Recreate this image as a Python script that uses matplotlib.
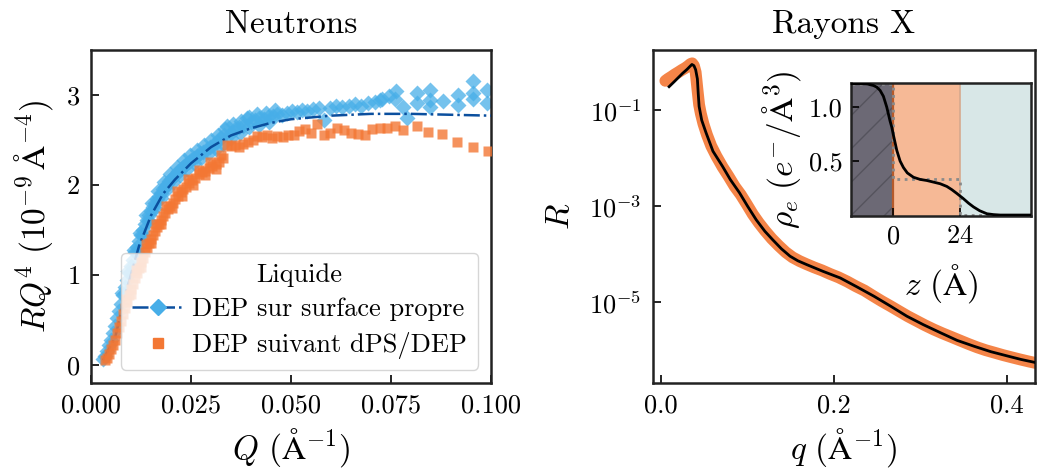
import matplotlib
matplotlib.use("Agg")
import matplotlib.pyplot as plt
from matplotlib.ticker import NullLocator, FixedLocator, FormatStrFormatter
from matplotlib.lines import Line2D

plt.rcParams['font.family'] = 'cmr10'
plt.rcParams['mathtext.fontset'] = 'cm'
plt.rcParams['axes.formatter.use_mathtext'] = True
plt.rcParams['axes.unicode_minus'] = False
plt.rcParams['hatch.linewidth'] = 1.0

# ---------------- Neutrons data ----------------
Q_clean = [0.0030, 0.0035, 0.0040, 0.0045, 0.0050, 0.0055, 0.0060, 0.0065, 0.0070, 0.0075,
           0.0080, 0.0085, 0.0090, 0.0095, 0.0100, 0.0105, 0.0110, 0.0115, 0.0120, 0.0125,
           0.0130, 0.0135, 0.0140, 0.0145, 0.0150, 0.0155, 0.0160, 0.0165, 0.0170, 0.0175,
           0.0180, 0.0185, 0.0190, 0.0195, 0.0200, 0.0206, 0.0212, 0.0218, 0.0224, 0.0230,
           0.0237, 0.0244, 0.0251, 0.0258, 0.0265, 0.0273, 0.0281, 0.0289, 0.0297, 0.0305,
           0.0314, 0.0323, 0.0332, 0.0341, 0.0350, 0.0360, 0.0370, 0.0380, 0.0390, 0.0400,
           0.0410, 0.0421, 0.0432, 0.0443, 0.0454, 0.0466, 0.0478, 0.0490, 0.0502, 0.0515,
           0.0528, 0.0541, 0.0555, 0.0569, 0.0583, 0.0598, 0.0613, 0.0628, 0.0644, 0.0660,
           0.0676, 0.0693, 0.0710, 0.0723, 0.0727, 0.0745, 0.0760, 0.0763, 0.0781, 0.0789,
           0.0814, 0.0814, 0.0848, 0.0848, 0.0848, 0.0881, 0.0918, 0.0918, 0.0956, 0.0956,
           0.0956, 0.0990, 0.0990,
           # upper and lower edges of the dense band
           0.0078, 0.0092, 0.0108, 0.0122, 0.0138, 0.0152, 0.0168, 0.0182, 0.0198, 0.0215,
           0.0232, 0.0248, 0.0265, 0.0282, 0.0300, 0.0318, 0.0335, 0.0355, 0.0375, 0.0395,
           0.0415, 0.0437, 0.0460,
           0.0085, 0.0100, 0.0115, 0.0130, 0.0145, 0.0160, 0.0175, 0.0190, 0.0205, 0.0222,
           0.0240, 0.0258, 0.0276, 0.0295, 0.0312, 0.0330, 0.0350, 0.0372, 0.0395, 0.0420,
           0.0445]
RQ4_clean = [0.06, 0.10, 0.15, 0.22, 0.28, 0.35, 0.43, 0.52, 0.60, 0.68,
             0.77, 0.86, 0.94, 1.02, 1.10, 1.17, 1.25, 1.31, 1.38, 1.44,
             1.50, 1.56, 1.61, 1.66, 1.71, 1.75, 1.80, 1.84, 1.88, 1.91,
             1.95, 1.98, 2.01, 2.04, 2.06, 2.09, 2.12, 2.15, 2.18, 2.20,
             2.23, 2.25, 2.28, 2.30, 2.32, 2.35, 2.37, 2.40, 2.42, 2.44,
             2.48, 2.52, 2.56, 2.66, 2.58, 2.62, 2.64, 2.66, 2.74, 2.70,
             2.72, 2.74, 2.73, 2.76, 2.77, 2.79, 2.78, 2.80, 2.82, 2.81,
             2.83, 2.82, 2.84, 2.85, 2.72, 2.86, 2.88, 2.87, 2.88, 2.90,
             2.88, 2.91, 2.92, 2.94, 2.96, 2.99, 2.95, 3.04, 2.87, 2.74,
             3.02, 2.91, 3.06, 2.94, 2.87, 2.93, 3.00, 2.89, 3.15, 3.02,
             2.96, 3.06, 2.91,
             0.80, 1.04, 1.28, 1.47, 1.66, 1.80, 1.93, 2.03, 2.12, 2.20,
             2.28, 2.33, 2.39, 2.44, 2.50, 2.56, 2.62, 2.68, 2.71, 2.76,
             2.79, 2.80, 2.83,
             0.80, 1.03, 1.25, 1.44, 1.60, 1.74, 1.85, 1.95, 2.03, 2.11,
             2.18, 2.24, 2.30, 2.35, 2.40, 2.45, 2.52, 2.58, 2.64, 2.67,
             2.70]

Q_fit = [0.003, 0.006, 0.009, 0.012, 0.015, 0.018, 0.021, 0.025, 0.030, 0.035,
         0.040, 0.045, 0.050, 0.060, 0.070, 0.080, 0.090, 0.100]
RQ4_fit = [0.05, 0.30, 0.85, 1.32, 1.66, 1.90, 2.06, 2.24, 2.42, 2.55,
           2.63, 2.69, 2.73, 2.77, 2.79, 2.79, 2.78, 2.77]

Q_dps = [0.0035, 0.0040, 0.0045, 0.0050, 0.0055, 0.0060, 0.0065, 0.0070, 0.0075, 0.0080,
         0.0085, 0.0090, 0.0095, 0.0100, 0.0105, 0.0110, 0.0115, 0.0120, 0.0125, 0.0130,
         0.0135, 0.0140, 0.0145, 0.0150, 0.0155, 0.0160, 0.0165, 0.0170, 0.0175, 0.0180,
         0.0186, 0.0192, 0.0198, 0.0204, 0.0210, 0.0217, 0.0224, 0.0231, 0.0238, 0.0245,
         0.0253, 0.0261, 0.0269, 0.0277, 0.0285, 0.0294, 0.0303, 0.0312, 0.0321, 0.0330,
         0.0340, 0.0350, 0.0360, 0.0370, 0.0380, 0.0392, 0.0404, 0.0416, 0.0428, 0.0440,
         0.0453, 0.0466, 0.0479, 0.0493, 0.0507, 0.0521, 0.0536, 0.0551, 0.0566, 0.0582,
         0.0598, 0.0615, 0.0632, 0.0649, 0.0667, 0.0685, 0.0703, 0.0722, 0.0741, 0.0760,
         0.0781, 0.0814, 0.0843, 0.0877, 0.0914, 0.0956, 0.0993,
         0.0088, 0.0112, 0.0138, 0.0162, 0.0188, 0.0214, 0.0242, 0.0270, 0.0298, 0.0325,
         0.0100, 0.0125, 0.0150, 0.0176, 0.0202, 0.0228, 0.0256, 0.0284, 0.0312]
RQ4_dps = [0.05, 0.08, 0.12, 0.17, 0.22, 0.28, 0.35, 0.42, 0.49, 0.56,
           0.63, 0.70, 0.77, 0.84, 0.90, 0.96, 1.02, 1.08, 1.14, 1.19,
           1.25, 1.30, 1.35, 1.40, 1.44, 1.49, 1.53, 1.57, 1.61, 1.65,
           1.69, 1.73, 1.77, 1.80, 1.84, 1.88, 1.92, 1.95, 1.98, 2.02,
           2.05, 2.08, 2.12, 2.14, 2.16, 2.19, 2.21, 2.23, 2.26, 2.30,
           2.44, 2.43, 2.44, 2.42, 2.45, 2.48, 2.50, 2.54, 2.53, 2.56,
           2.52, 2.54, 2.53, 2.56, 2.55, 2.60, 2.62, 2.58, 2.68, 2.56,
           2.58, 2.63, 2.61, 2.58, 2.57, 2.55, 2.62, 2.63, 2.63, 2.66,
           2.61, 2.65, 2.59, 2.57, 2.48, 2.42, 2.38,
           0.73, 1.05, 1.34, 1.56, 1.77, 1.93, 2.06, 2.17, 2.26, 2.33,
           0.79, 1.09, 1.35, 1.56, 1.74, 1.88, 2.00, 2.11, 2.18]

# ---------------- X-ray data ----------------
q_data = [0.005, 0.008, 0.012, 0.016, 0.020, 0.024, 0.028, 0.031, 0.034, 0.036,
          0.038, 0.040, 0.041, 0.042, 0.043, 0.044, 0.046, 0.049, 0.053, 0.058,
          0.064, 0.071, 0.078, 0.085, 0.092, 0.099, 0.106, 0.113, 0.120, 0.128,
          0.136, 0.144, 0.152, 0.160, 0.168, 0.177, 0.186, 0.195, 0.205, 0.215,
          0.225, 0.235, 0.245, 0.255, 0.265, 0.275, 0.285, 0.295, 0.305, 0.315,
          0.325, 0.335, 0.345, 0.355, 0.365, 0.375, 0.385, 0.395, 0.405, 0.415,
          0.425, 0.433]
R_data = [0.41, 0.45, 0.50, 0.56, 0.62, 0.69, 0.76, 0.83, 0.92, 0.95,
          0.85, 0.62, 0.42, 0.28, 0.19, 0.13, 0.085, 0.052, 0.031, 0.018,
          0.011, 6.6e-3, 4.2e-3, 2.6e-3, 1.75e-3, 1.1e-3, 6.8e-4, 4.5e-4, 3.1e-4, 2.1e-4,
          1.5e-4, 1.1e-4, 8.6e-5, 7.2e-5, 6.2e-5, 5.3e-5, 4.6e-5, 3.9e-5, 3.3e-5, 2.7e-5,
          2.15e-5, 1.75e-5, 1.35e-5, 1.05e-5, 8.3e-6, 6.5e-6, 5.1e-6, 4.1e-6, 3.3e-6, 2.7e-6,
          2.25e-6, 1.9e-6, 1.6e-6, 1.35e-6, 1.15e-6, 1.0e-6, 8.9e-7, 7.9e-7, 7.1e-7, 6.4e-7,
          5.8e-7, 5.4e-7]

q_fit = [0.0093, 0.015, 0.020, 0.025, 0.030, 0.034, 0.0357, 0.038, 0.040, 0.042,
         0.043, 0.044, 0.047, 0.052, 0.060, 0.071, 0.080, 0.0907, 0.100, 0.110,
         0.120, 0.129, 0.139, 0.149, 0.158, 0.168, 0.187, 0.207, 0.226, 0.246,
         0.265, 0.284, 0.303, 0.323, 0.342, 0.362, 0.381, 0.401, 0.416, 0.431]
R_fit = [0.31, 0.39, 0.48, 0.59, 0.71, 0.84, 0.90, 0.85, 0.70, 0.45,
         0.22, 0.12, 0.062, 0.034, 0.014, 6.8e-3, 3.6e-3, 1.9e-3, 1.0e-3, 5.2e-4,
         3.0e-4, 2.0e-4, 1.3e-4, 9.1e-5, 7.3e-5, 6.1e-5, 4.4e-5, 3.2e-5, 2.1e-5, 1.33e-5,
         8.3e-6, 5.1e-6, 3.4e-6, 2.3e-6, 1.6e-6, 1.2e-6, 9.3e-7, 7.5e-7, 6.4e-7, 5.6e-7]

# ---------------- Inset: electron density profile ----------------
z_prof = [-15.0, -12.0, -9.6, -7.2, -6.0, -4.8, -3.6, -2.4, -1.2, -0.6,
          0.0, 1.2, 2.4, 3.6, 5.0, 7.2, 9.6, 12.0, 14.4, 16.8,
          19.2, 21.0, 22.8, 25.0, 27.0, 28.8, 31.0, 33.6, 36.0, 38.4,
          43.0, 50.0]
rho_prof = [1.217, 1.217, 1.215, 1.20, 1.185, 1.155, 1.10, 1.00, 0.87, 0.815,
            0.74, 0.60, 0.50, 0.44, 0.39, 0.35, 0.33, 0.32, 0.305, 0.29,
            0.265, 0.235, 0.20, 0.155, 0.11, 0.075, 0.04, 0.012, 0.004, 0.0,
            0.0, 0.0]
z_box = [-15.0, 0.0, 0.0, 24.0, 24.0, 50.0]
rho_box = [1.217, 1.217, 0.33, 0.33, 0.0, 0.0]

blue = '#47aee8'
dblue = '#0b4f9e'
orange = '#f37734'

fig = plt.figure(figsize=(10.44, 4.75), dpi=100)

# ---------- Left: Neutrons ----------
ax1 = fig.add_axes([0.0872, 0.1943, 0.3831, 0.7004])
ax1.plot(Q_clean, RQ4_clean, ls='none', marker='D', ms=8,
         color=blue, alpha=0.75, mec='none', zorder=2)
ax1.plot(Q_fit, RQ4_fit, ls='-.', color=dblue, lw=1.8, zorder=3)
ax1.plot(Q_dps, RQ4_dps, ls='none', marker='s', ms=7.5,
         color=orange, alpha=0.8, mec='none', zorder=4)
ax1.set_xlim(0, 0.1)
ax1.set_ylim(-0.2, 3.5)
ax1.set_xticks([0.0, 0.025, 0.05, 0.075, 0.1])
ax1.xaxis.set_major_formatter(FormatStrFormatter('%.3f'))
ax1.set_yticks([0, 1, 2, 3])
ax1.set_title('Neutrons', fontsize=24, pad=12)
ax1.set_xlabel(r'$Q\ (\mathrm{\AA}^{-1})$', fontsize=24, labelpad=6)
ax1.set_ylabel(r'$RQ^4\ (10^{-9}\,\mathrm{\AA}^{-4})$', fontsize=24, labelpad=8)

leg_clean = Line2D([], [], ls='-.', color=dblue, lw=1.8, marker='D', ms=8,
                   mfc=blue, mec=blue)
leg_dps = Line2D([], [], ls='none', marker='s', ms=7.5, mfc=orange, mec=orange)
ax1.legend([leg_clean, leg_dps],
           ['DEP sur surface propre', 'DEP suivant dPS/DEP'],
           title='Liquide', loc='lower right', fontsize=19,
           title_fontsize=19, framealpha=0.8, edgecolor='#cccccc',
           fancybox=True, handlelength=2.0, handletextpad=0.3,
           borderaxespad=0.5, labelspacing=0.4)

# ---------- Right: Rayons X ----------
ax2 = fig.add_axes([0.6252, 0.1943, 0.3662, 0.7004])
ax2.plot(q_data, R_data, ls='-', lw=8.5, color=orange, alpha=0.9,
         solid_capstyle='round', solid_joinstyle='round', zorder=2)
ax2.plot(q_fit, R_fit, ls='-', lw=2, color='black', zorder=3)
ax2.set_yscale('log')
ax2.set_xlim(-0.0096, 0.432)
ax2.set_ylim(2.1e-7, 1.8)
ax2.yaxis.set_major_locator(FixedLocator([1e-1, 1e-3, 1e-5]))
ax2.yaxis.set_minor_locator(NullLocator())
ax2.set_xticks([0.0, 0.2, 0.4])
ax2.xaxis.set_major_formatter(FormatStrFormatter('%.1f'))
ax2.set_title('Rayons X', fontsize=24, pad=12)
ax2.set_xlabel(r'$q\ (\mathrm{\AA}^{-1})$', fontsize=24, labelpad=6)
ax2.set_ylabel(r'$R$', fontsize=24, labelpad=10)

for ax in (ax1, ax2):
    ax.tick_params(direction='in', length=6, width=1.2, labelsize=19, pad=8,
                   top=False, right=False)
    for s in ax.spines.values():
        s.set_linewidth(1.8)
        s.set_color('#222222')

# ---------- Inset ----------
axi = fig.add_axes([0.815, 0.545, 0.1724, 0.2807])
axi.axvspan(-15.3, 0, facecolor='#6c6975', edgecolor='#55535d', hatch='/', lw=0, zorder=0)
axi.axvspan(0, 24, facecolor='#f6b996', lw=0, zorder=0)
axi.axvspan(24, 50, facecolor='#d8e7e7', lw=0, zorder=0)
axi.axvline(0, color='#b55a2b', lw=1.6, zorder=1)
axi.axvline(24, color='#d6a98e', lw=1.2, zorder=1)
axi.plot(z_box, rho_box, ls=':', color='#8a8a8a', lw=2.0, zorder=2)
axi.plot(z_prof, rho_prof, color='black', lw=2.0, zorder=3)
axi.set_xlim(-15.3, 49.4)
axi.set_ylim(-0.01, 1.225)
axi.set_xticks([0, 24])
axi.set_yticks([0.5, 1.0])
axi.yaxis.set_major_formatter(FormatStrFormatter('%.1f'))
axi.tick_params(direction='in', length=6, width=1.2, labelsize=19, pad=6)
for s in axi.spines.values():
    s.set_linewidth(1.8)
    s.set_color('#222222')
axi.set_xlabel(r'$z\ (\mathrm{\AA})$', fontsize=24, labelpad=10)
axi.set_ylabel(r'$\rho_e\ (e^{-}/\mathrm{\AA}^3)$', fontsize=24, labelpad=4)

fig.savefig('out.png', dpi=100)
